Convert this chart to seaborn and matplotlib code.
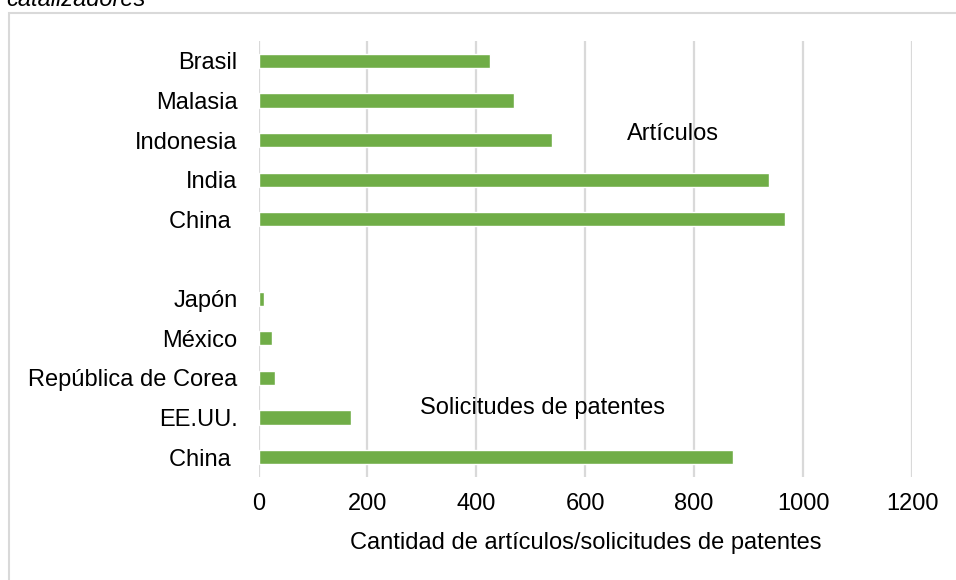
import matplotlib
matplotlib.use("Agg")
import matplotlib.pyplot as plt
import seaborn as sns
import pandas as pd
from matplotlib.patches import Rectangle

# Data (top to bottom)
labels = ["Brasil", "Malasia", "Indonesia", "India", "China ",
          "", "Japón", "México", "República de Corea", "EE.UU.", "China "]
articulos_paises = ["Brasil", "Malasia", "Indonesia", "India", "China"]
articulos_valores = [426, 469, 539, 937, 967]
patentes_paises = ["Japón", "México", "República de Corea", "EE.UU.", "China"]
patentes_valores = [11, 25, 30, 170, 871]
xticks = [0, 200, 400, 600, 800, 1000, 1200]

sns.set_theme(style="white")
plt.rcParams['font.family'] = ['Liberation Sans', 'DejaVu Sans']

FS = 17

pos_art = [0, 1, 2, 3, 4]
pos_pat = [6, 7, 8, 9, 10]
df = pd.DataFrame({
    "valor": articulos_valores + patentes_valores,
    "pos": pos_art + pos_pat,
})

fig = plt.figure(figsize=(9.56, 5.8), dpi=100)
ax = fig.add_axes([258.5 / 956, 1 - 477 / 580, (912 - 258.5) / 956, (477 - 41) / 580])

sns.barplot(data=df, x="valor", y="pos", orient="h", native_scale=True,
            color="#70AD47", saturation=1, width=0.36, ax=ax, zorder=3)

ax.set_xlim(0, 1200)
ax.set_ylim(10.5, -0.5)
ax.set_xticks(xticks)
ax.set_xticklabels([str(t) for t in xticks])
ax.set_yticks(range(len(labels)))
ax.set_yticklabels(labels)
ax.grid(axis="x", color="#d9d9d9", linewidth=1.6, zorder=0)
ax.grid(axis="y", visible=False)
for s in ["top", "right", "bottom", "left"]:
    ax.spines[s].set_visible(False)
ax.tick_params(axis="y", length=0, pad=15, labelsize=FS, labelcolor="#000000")
ax.tick_params(axis="x", length=0, pad=11.5, labelsize=FS, labelcolor="#000000")
ax.set_ylabel("")
ax.set_xlabel("Cantidad de artículos/solicitudes de patentes", fontsize=FS,
              color="#000000", labelpad=12.5)

ax.text(676, 1.84, "Artículos", fontsize=FS, va="center", ha="left", color="#000000")
ax.text(296, 8.77, "Solicitudes de patentes", fontsize=FS, va="center", ha="left",
        color="#000000")

# outer border (partially visible) and cut-off title
fig.patches.append(Rectangle((8.5 / 956, -0.05), 1.0, 1 - 12.5 / 580 + 0.05,
                             transform=fig.transFigure, fill=False,
                             edgecolor="#d9d9d9", linewidth=1.5))
fig.text(6 / 956, 1 - 6 / 580, "catalizadores", fontsize=FS, fontstyle="italic",
         va="baseline", ha="left", color="#000000")

fig.savefig("out.png", dpi=100)
